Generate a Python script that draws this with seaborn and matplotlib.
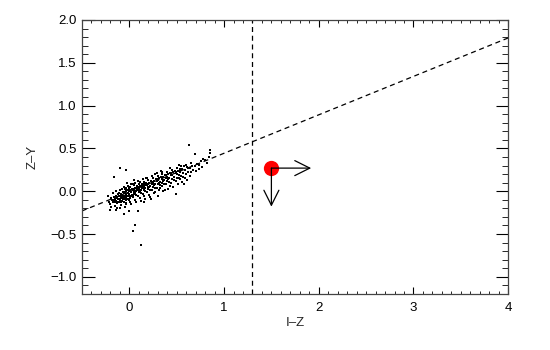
import matplotlib
matplotlib.use("Agg")
import matplotlib.pyplot as plt
import seaborn as sns
import pandas as pd
from matplotlib.ticker import MultipleLocator

sns.set_theme(style="ticks")
plt.rcParams['font.family'] = ['Liberation Sans', 'DejaVu Sans']

# Scatter sample: (I-Z, Z-Y)
points = [
    (-0.21,-0.12),(-0.19,-0.08),(-0.2,-0.15),(-0.18,-0.10),(-0.22,-0.05),(-0.19,-0.18),
    (-0.16,-0.10),(-0.14,-0.05),(-0.15,-0.13),(-0.13,-0.08),(-0.17,-0.02),(-0.15,-0.17),(-0.14,-0.11),
    (-0.16,-0.07),(-0.13,-0.14),(-0.12,-0.03),(-0.15,-0.09),(-0.17,-0.13),(-0.13,-0.19),(-0.14,0.00),
    (-0.11,-0.06),(-0.10,-0.10),(-0.09,-0.03),(-0.11,-0.13),(-0.08,-0.07),(-0.10,0.01),(-0.09,-0.16),
    (-0.12,-0.09),(-0.08,-0.11),(-0.10,-0.05),(-0.11,-0.02),(-0.09,-0.08),(-0.07,-0.01),(-0.10,-0.19),
    (-0.08,0.03),(-0.12,-0.12),(-0.09,-0.12),(-0.07,-0.09),(-0.11,-0.09),(-0.08,-0.04),
    (-0.06,-0.05),(-0.05,-0.09),(-0.04,0.00),(-0.06,-0.12),(-0.03,-0.04),(-0.05,0.03),(-0.04,-0.14),
    (-0.06,-0.02),(-0.03,-0.08),(-0.05,-0.06),(-0.02,0.02),(-0.04,-0.10),(-0.06,0.05),(-0.03,-0.15),
    (-0.05,-0.01),(-0.02,-0.06),(-0.04,-0.03),(-0.06,-0.08),(-0.03,0.04),(-0.05,-0.18),
    (-0.01,-0.02),(0.00,-0.06),(0.01,0.02),(-0.01,-0.09),(0.02,-0.01),(0.00,0.04),(0.01,-0.12),
    (-0.01,0.01),(0.02,-0.05),(0.00,-0.03),(0.03,0.03),(0.01,-0.08),(-0.01,0.06),(0.02,-0.15),
    (0.00,0.00),(0.03,-0.04),(0.01,0.05),(-0.01,-0.05),(0.02,0.08),(0.00,-0.10),
    (0.04,0.01),(0.05,-0.03),(0.06,0.04),(0.04,-0.07),(0.07,0.00),(0.05,0.07),(0.06,-0.10),
    (0.04,0.03),(0.07,-0.04),(0.05,0.02),(0.08,0.06),(0.06,-0.02),(0.04,0.09),(0.07,-0.13),
    (0.05,-0.01),(0.08,0.01),(0.06,0.10),(0.04,-0.04),(0.07,0.04),
    (0.09,0.03),(0.10,-0.01),(0.11,0.06),(0.09,-0.05),(0.12,0.02),(0.10,0.09),(0.11,-0.08),
    (0.09,0.05),(0.12,-0.02),(0.10,0.04),(0.13,0.08),(0.11,0.00),(0.09,0.12),(0.12,-0.11),
    (0.10,0.01),(0.13,0.04),(0.11,0.11),(0.12,0.06),
    (0.14,0.05),(0.15,0.01),(0.16,0.08),(0.14,-0.03),(0.17,0.04),(0.15,0.11),(0.16,-0.06),
    (0.14,0.07),(0.17,0.00),(0.15,0.06),(0.18,0.10),(0.16,0.03),(0.14,0.14),(0.17,-0.09),
    (0.15,0.03),(0.18,0.07),
    (0.19,0.07),(0.20,0.03),(0.21,0.10),(0.19,-0.01),(0.22,0.06),(0.20,0.13),(0.21,-0.04),
    (0.19,0.09),(0.22,0.02),(0.20,0.08),(0.23,0.12),(0.21,0.05),(0.19,0.16),(0.22,-0.07),(0.20,0.05),
    (0.24,0.09),(0.25,0.05),(0.26,0.12),(0.24,0.01),(0.27,0.08),(0.25,0.15),(0.26,-0.02),
    (0.24,0.11),(0.27,0.04),(0.25,0.10),(0.28,0.14),(0.26,0.07),(0.24,0.18),(0.27,-0.01),
    (0.29,0.12),(0.30,0.08),(0.31,0.15),(0.29,0.04),(0.32,0.11),(0.30,0.18),(0.31,0.01),
    (0.29,0.14),(0.32,0.07),(0.30,0.13),(0.33,0.17),(0.31,0.10),(0.29,0.21),(0.32,0.04),
    (0.34,0.14),(0.35,0.10),(0.36,0.17),(0.34,0.06),(0.37,0.13),(0.35,0.20),(0.36,0.00),
    (0.34,0.16),(0.37,0.09),(0.35,0.15),(0.38,0.19),(0.36,0.12),(0.34,0.23),
    (0.39,0.16),(0.40,0.12),(0.41,0.20),(0.39,0.08),(0.42,0.15),(0.40,0.23),(0.41,0.03),
    (0.39,0.19),(0.42,0.11),(0.40,0.17),(0.43,0.21),(0.41,0.14),
    (0.44,0.19),(0.45,0.14),(0.46,0.22),(0.44,0.10),(0.47,0.17),(0.45,0.25),(0.46,0.05),
    (0.44,0.21),(0.47,0.13),(0.45,0.19),(0.48,0.24),(0.49,-0.03),
    (0.49,0.21),(0.50,0.16),(0.51,0.24),(0.49,0.12),(0.52,0.19),(0.50,0.27),(0.51,0.08),
    (0.49,0.23),(0.52,0.15),(0.50,0.20),(0.53,0.26),
    (0.54,0.23),(0.55,0.18),(0.56,0.26),(0.54,0.14),(0.57,0.21),(0.55,0.29),(0.56,0.11),
    (0.54,0.25),(0.57,0.17),(0.58,0.08),
    (0.59,0.25),(0.60,0.20),(0.61,0.28),(0.59,0.16),(0.62,0.23),(0.60,0.31),(0.61,0.13),(0.62,0.27),
    (0.64,0.27),(0.65,0.22),(0.66,0.30),(0.64,0.18),(0.67,0.25),(0.65,0.33),(0.63,0.54),
    (0.69,0.29),(0.70,0.24),(0.71,0.32),(0.69,0.44),(0.74,0.26),
    (0.74,0.31),(0.76,0.35),(0.77,0.28),(0.78,0.38),
    (0.80,0.36),(0.84,0.40),(0.85,0.48),(0.85,0.45),(0.82,0.33),
    (-0.095,0.275),(-0.035,0.25),(-0.16,0.17),(0.035,-0.46),(0.12,-0.63),(0.063,-0.40),
    (-0.06,-0.27),(-0.007,-0.23),(0.088,-0.23),(-0.2,-0.22),
    (0.23,-0.09),(0.33,0.24),(0.43,0.27),(0.38,0.02),(0.52,0.31),(0.58,0.30),(0.27,0.20),
    (0.18,0.16),(-0.02,0.10),(0.05,0.13),(0.43,0.06),(0.30,-0.05),(0.16,-0.12),(-0.14,-0.22),
]
iz = [p[0] for p in points]
zy = [p[1] for p in points]

# Reference dashed lines
diag_x = [-0.5, 4.0]
diag_y = [-0.23, 1.79]
vline_x = 1.3

# Highlighted object with limit arrows
obj_x, obj_y = 1.5, 0.27
arrow_right_to = 1.92
arrow_down_to = -0.18

df = pd.DataFrame({"I-Z": iz, "Z-Y": zy})

fig = plt.figure(figsize=(5.5, 3.5), dpi=100)
ax = fig.add_axes([0.149, 0.16, 0.775, 0.783])

sns.scatterplot(data=df, x="I-Z", y="Z-Y", ax=ax, s=4, color="black",
                marker="s", linewidth=0, legend=False)
sns.lineplot(x=diag_x, y=diag_y, ax=ax, color="black", linewidth=0.9,
             linestyle=(0, (4, 3)))
ax.axvline(vline_x, color="black", linewidth=0.9, linestyle=(0, (4, 3)))

ax.annotate("", xy=(arrow_right_to, obj_y), xytext=(obj_x, obj_y),
            arrowprops=dict(arrowstyle="->,head_length=0.9,head_width=0.45",
                            color="black", lw=0.9, shrinkA=0, shrinkB=0))
ax.annotate("", xy=(obj_x, arrow_down_to), xytext=(obj_x, obj_y),
            arrowprops=dict(arrowstyle="->,head_length=0.9,head_width=0.45",
                            color="black", lw=0.9, shrinkA=0, shrinkB=0))
ax.plot([obj_x], [obj_y], marker="o", markersize=11, color="#ff0000",
        markeredgewidth=0, zorder=1)

ax.set_xlim(-0.5, 4.0)
ax.set_ylim(-1.2, 2.0)
ax.xaxis.set_major_locator(MultipleLocator(1))
ax.xaxis.set_minor_locator(MultipleLocator(0.1))
ax.yaxis.set_major_locator(MultipleLocator(0.5))
ax.yaxis.set_minor_locator(MultipleLocator(0.1))

ax.tick_params(axis="x", which="major", direction="in", length=5, width=0.8,
               top=True, bottom=True, labelsize=9.5, pad=6, colors="black")
ax.tick_params(axis="x", which="minor", direction="in", length=2.5, width=0.7,
               top=True, bottom=True)
ax.tick_params(axis="y", which="major", direction="in", length=9, width=0.8,
               left=True, right=True, labelsize=9.5, pad=4, colors="black")
ax.tick_params(axis="y", which="minor", direction="in", length=4.5, width=0.7,
               left=True, right=True)
ax.set_xticks([0, 1, 2, 3, 4])
ax.set_xticklabels(["0", "1", "2", "3", "4"])
ax.set_yticks([-1.0, -0.5, 0.0, 0.5, 1.0, 1.5, 2.0])
ax.set_yticklabels(["\u22121.0", "\u22120.5", "0.0", "0.5", "1.0", "1.5", "2.0"])

for s in ax.spines.values():
    s.set_color("#444444")
    s.set_linewidth(0.9)

ax.set_xlabel("I\u2013Z", fontsize=9.5, labelpad=2)
ax.set_ylabel("Z\u2013Y", fontsize=9.5, labelpad=8)

fig.savefig("out.png", dpi=100)
